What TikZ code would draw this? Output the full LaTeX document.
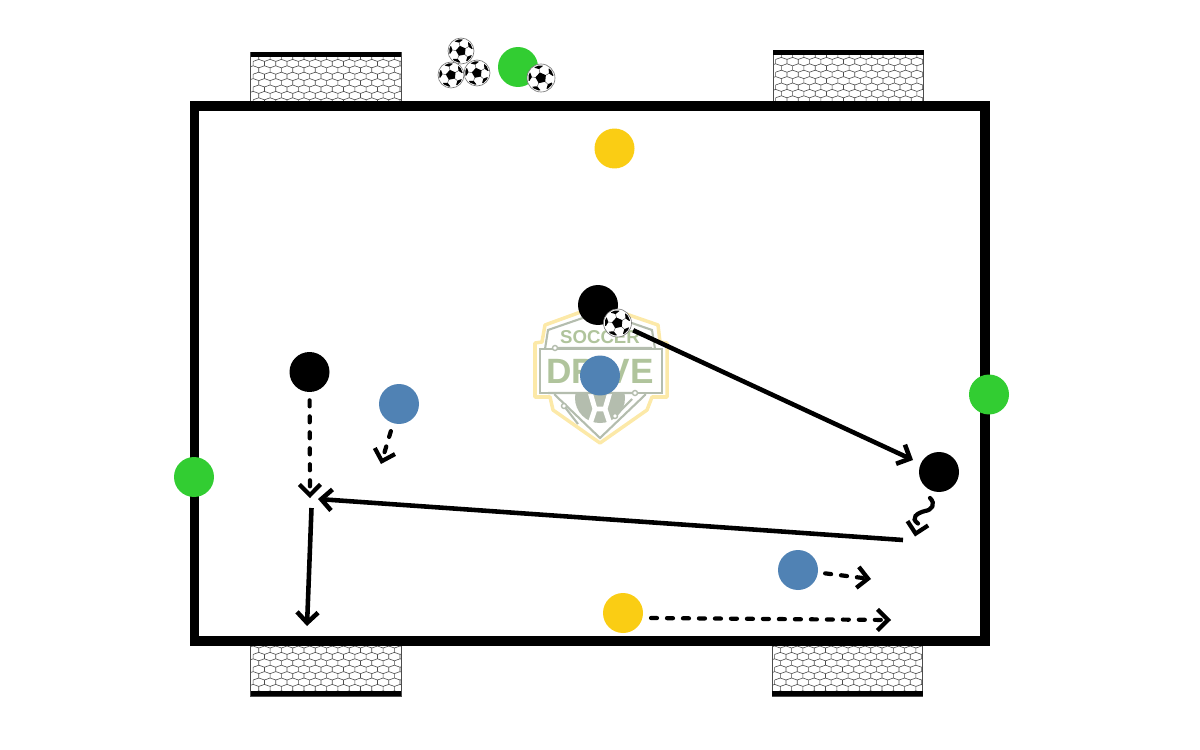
\documentclass[tikz,border=0pt]{standalone}
\usepackage{fontspec}
\setsansfont{Liberation Sans}
\usetikzlibrary{arrows.meta}
\definecolor{playergreen}{HTML}{32CD32}
\definecolor{playergold}{HTML}{FACD14}
\definecolor{playerblue}{HTML}{5082B4}
\definecolor{logogold}{HTML}{FCE9A8}
\definecolor{logogreen}{HTML}{B0C49C}
\definecolor{logogray}{HTML}{B4BDAE}
\tikzset{
  player/.style={circle, minimum size=0.8cm, inner sep=0pt},
  soccerball/.style={circle, draw=black!55, line width=0.35pt, fill=white, minimum size=#1*0.04cm, inner sep=0pt},
  pass/.style={line width=2.6pt, -{Straight Barb[length=6pt, width=12pt]}},
  run/.style={line width=2.4pt, line cap=round, dash pattern=on 3.4pt off 5.7pt, -{Straight Barb[length=6pt, width=12pt]}},
  netline/.style={black!70, line width=0.35pt},
  goalframe/.style={draw=black!70, line width=0.5pt},
  logoline/.style={logogray, line width=1.2pt}
}
% one goal: left edge, top edge
\newcommand{\goalnet}[2]{
  \begin{scope}
    \clip (#1,#2) rectangle ++(150.5,51);
    \foreach \c in {0,...,14} \foreach \r in {0,...,8} {
      \pgfmathsetmacro{\nx}{#1-3+\c*11.3+mod(\r,2)*5.65}
      \pgfmathsetmacro{\ny}{#2+1+\r*6.4}
      \draw[netline] (\nx,\ny+2)--(\nx+5.65,\ny)--(\nx+11.3,\ny+2) (\nx,\ny+2)--++(0,4.4);
    }
  \end{scope}
  \draw[goalframe] (#1,#2) rectangle ++(150.5,51);
}
% patches of one ball: node name, radius
\newcommand{\ballmarks}[2]{
  \begin{scope}[shift={(#1.center)}, x=#2*0.001cm, y=#2*0.001cm, rotate=12]
    \clip (0,0) circle (18);
    \foreach \a in {90,162,234,306,18} {
      \draw[black!70, line width=0.25pt, rotate=\a] (6,0) -- (13,0);
      \fill[black, rotate=\a] (13,0)--(16,6)--(22,5)--(22,-5)--(16,-6)--cycle;
    }
    \fill[black] (90:8)--(162:8)--(234:8)--(306:8)--(18:8)--cycle;
  \end{scope}
}
\begin{document}
\begin{tikzpicture}[x=0.02cm, y=-0.02cm, every node/.style={font=\sffamily\bfseries}]
\useasboundingbox (0,0) rectangle (1200,750);
% goals
\goalnet{250.5}{52}
\fill[black] (250.5,52) rectangle (401,57.5);
\goalnet{773}{50}
\fill[black] (773,50) rectangle (923.5,55.5);
\goalnet{250.5}{645}
\fill[black] (250.5,690.5) rectangle (401,696);
\goalnet{772}{645}
\fill[black] (772,690.5) rectangle (922.5,696);
% logo
\draw[logogold, line width=2pt, line join=round] (600,305)--(658,325)--(660,342)--(667,343)--(667,397)--(652,397)--(647,410)--(600,443)--(553,410)--(550,397)--(535,397)--(535,343)--(542,342)--(545,325)--cycle;
\draw[logoline, fill=white] (600,312)--(652,330)--(655,349)--(645,395)--(600,438)--(555,395)--(545,349)--(548,330)--cycle;
\fill[logogray] (600,398) circle (25);
\draw[white, line width=2.8pt] (590,392)--(595,409)--(605,409)--(610,392) (595,409)--(590,424) (605,409)--(610,424);
\draw[logoline, fill=white] (540,349) rectangle (662,393);
\draw[logoline] (558,348)--(652,348) (632,393)--(548,393) (564,406)--(578,424) (615,416)--(632,399);
\foreach \lx/\ly in {555/348, 635/393, 564/406, 615/416} \draw[logoline, line width=0.8pt, fill=white] (\lx,\ly) circle (2.5);
\node[text=logogreen, font=\sffamily\bfseries\fontsize{10.6}{12}\selectfont, inner sep=0pt] (logotop) at (600,337) {SOCCER};
\node[text=logogreen, font=\sffamily\bfseries\fontsize{20}{22}\selectfont, inner sep=0pt] (logomain) at (600,371) {DRIVE};
% field
\draw[line width=5.5pt] (194.5,106) rectangle (985,641);
% players
\node[player, fill=playergreen] (greenTop) at (518,67) {};
\node[player, fill=playergreen] (greenRight) at (989,394.5) {};
\node[player, fill=playergreen] (greenLeft) at (194,477) {};
\node[player, fill=playergold] (goldTop) at (614.5,148.5) {};
\node[player, fill=playergold] (goldBottom) at (623,613) {};
\node[player, fill=black] (blackMid) at (598,305) {};
\node[player, fill=black] (blackLeft) at (309.5,372) {};
\node[player, fill=black] (blackRight) at (939,472) {};
\node[player, fill=playerblue] (blueLeft) at (399,404) {};
\node[player, fill=playerblue] (blueMid) at (600,375.5) {};
\node[player, fill=playerblue] (blueRight) at (798,570) {};
% balls
\node[soccerball=13] (ballA) at (461,51) {};
\node[soccerball=13] (ballB) at (451,75) {};
\node[soccerball=13] (ballC) at (477,73) {};
\node[soccerball=14] (ballD) at (541,78) {};
\node[soccerball=14] (ballE) at (617.5,323) {};
\ballmarks{ballA}{13}
\ballmarks{ballB}{13}
\ballmarks{ballC}{13}
\ballmarks{ballD}{14}
\ballmarks{ballE}{14}
% end points
\coordinate (passOneEnd) at (913,460);
\coordinate (passTwoStart) at (903,540);
\coordinate (passTwoEnd) at (318,499);
\coordinate (shotStart) at (311.5,508);
\coordinate (shotEnd) at (307,626);
\coordinate (runLeftEnd) at (310,498);
\coordinate (runBlueEnd) at (381,464);
\coordinate (runRightEnd) at (871,579);
\coordinate (runGoldStart) at (651,618);
\coordinate (runGoldEnd) at (891,620);
\coordinate (waveStart) at (930,498);
\coordinate (waveTipFrom) at (917,527);
\coordinate (waveTip) at (915,536.5);
% passes
\draw[pass, shorten <=0.06cm] (ballE) -- (passOneEnd);
\draw[pass] (passTwoStart) -- (passTwoEnd);
\draw[pass] (shotStart) -- (shotEnd);
% runs
\draw[run, shorten <=0.16cm] (blackLeft) -- (runLeftEnd);
\draw[run, shorten <=0.16cm] (blueLeft) -- (runBlueEnd);
\draw[run, shorten <=0.14cm] (blueRight) -- (runRightEnd);
\draw[run] (runGoldStart) -- (runGoldEnd);
% dribble
\draw[line width=2.4pt, line cap=round] (waveStart) .. controls (936,504) and (932,510) .. (925,511) .. controls (917,513) and (910,518) .. (918,523.5);
\draw[run, dash pattern=on 0pt off 30pt, line cap=butt] (waveTipFrom) -- (waveTip);
\end{tikzpicture}
\end{document}
